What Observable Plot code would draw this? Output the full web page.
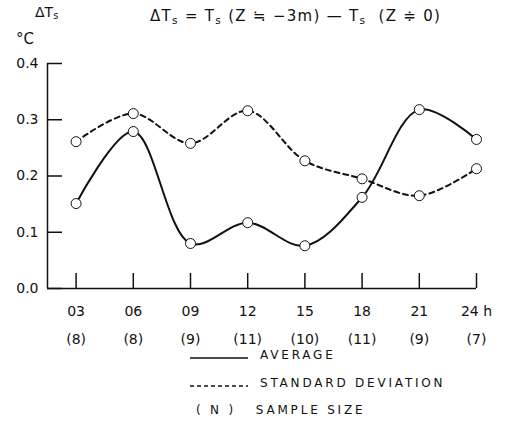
<!DOCTYPE html>
<html>
<head>
<meta charset="utf-8">
<script src="https://cdn.jsdelivr.net/npm/d3@7"></script>
<script src="https://cdn.jsdelivr.net/npm/@observablehq/plot@0.6"></script>
<style>
  body { margin: 0; background: #fff; }
  #wrap { position: relative; width: 520px; height: 421px; font-family: "DejaVu Sans", sans-serif; color: #111; }
  #wrap svg { position: absolute; left: 0; top: 0; }
  .t { position: absolute; white-space: nowrap; line-height: 1; }
  .sub { font-size: 0.7em; position: relative; top: 0.25em; }
  .leg { position: absolute; font-size: 12px; letter-spacing: 2.8px; white-space: nowrap; line-height: 1; }
</style>
</head>
<body>
<div id="wrap">
  <div class="t" style="left:35px;top:5px;font-size:14px;">ΔT<span class="sub">s</span></div>
  <div class="t" style="left:16px;top:32px;font-size:15px;">°C</div>
  <div class="t" style="left:150px;top:9px;font-size:15px;letter-spacing:1.3px;">ΔT<span class="sub">s</span> = T<span class="sub">s</span> (Z ≒ −3m) — T<span class="sub">s</span>&nbsp; (Z ≑ 0)</div>
  <svg class="legsvg" width="520" height="421" style="position:absolute;left:0;top:0;pointer-events:none">
    <line x1="190" x2="248" y1="358" y2="358" stroke="#111" stroke-width="1.5"/>
    <line x1="190" x2="248" y1="386" y2="386" stroke="#111" stroke-width="1.5" stroke-dasharray="4,3"/>
  </svg>
  <div class="leg" style="left:260px;top:349px;">AVERAGE</div>
  <div class="leg" style="left:260px;top:377px;">STANDARD DEVIATION</div>
  <div class="leg" style="left:196px;top:404px;">(&nbsp;N&nbsp;)&nbsp;&nbsp; SAMPLE SIZE</div>
</div>
<script>
const hours = [3, 6, 9, 12, 15, 18, 21, 24];
const hourLabels = ["03", "06", "09", "12", "15", "18", "21", "24 h"];
const sampleSizes = ["(8)", "(8)", "(9)", "(11)", "(10)", "(11)", "(9)", "(7)"];
const average = [0.151, 0.279, 0.080, 0.117, 0.076, 0.162, 0.318, 0.265];
const stdDev = [0.261, 0.311, 0.258, 0.316, 0.227, 0.195, 0.165, 0.213];
const yTicks = [0, 0.1, 0.2, 0.3, 0.4];
const yTickLabels = ["0.0", "0.1", "0.2", "0.3", "0.4"];

const avgData = hours.map((h, i) => ({h, v: average[i]}));
const sdData = hours.map((h, i) => ({h, v: stdDev[i]}));
const xDomain = [1.5, 24];

const W = 520, H = 421, mT = 63, mB = 133, mL = 47, mR = 44, tick = 15;
const frameW = W - mL - mR, frameH = H - mT - mB;

const chart = Plot.plot({
  width: W,
  height: H,
  marginTop: mT,
  marginBottom: mB,
  marginLeft: mL,
  marginRight: mR,
  style: {fontFamily: "DejaVu Sans, sans-serif", fontSize: "14px", color: "#111", background: "transparent"},
  x: {domain: xDomain, label: null},
  y: {domain: [0, 0.4], label: null},
  marks: [
    Plot.ruleY([0], {stroke: "#111", strokeWidth: 1.5}),
    Plot.ruleX([xDomain[0]], {stroke: "#111", strokeWidth: 1.5}),
    Plot.tickX(hours, {x: d => d, insetTop: frameH - tick, stroke: "#111", strokeWidth: 1.5}),
    Plot.tickY(yTicks, {y: d => d, insetRight: frameW - tick, stroke: "#111", strokeWidth: 1.5}),
    Plot.axisX(hours, {tickSize: 0, tickPadding: 18, label: null,
      tickFormat: d => hourLabels[hours.indexOf(d)], fontSize: 14, fill: "#111"}),
    Plot.axisX(hours, {tickSize: 0, tickPadding: 46, label: null,
      tickFormat: d => sampleSizes[hours.indexOf(d)], fontSize: 14, fill: "#111"}),
    Plot.axisY(yTicks, {tickSize: 0, tickPadding: 9, label: null,
      tickFormat: d => yTickLabels[yTicks.indexOf(d)], fontSize: 14, fill: "#111"}),
    Plot.line(sdData, {x: "h", y: "v", curve: "catmull-rom", stroke: "#111", strokeWidth: 2, strokeDasharray: "5,4"}),
    Plot.line(avgData, {x: "h", y: "v", curve: "catmull-rom", stroke: "#111", strokeWidth: 2}),
    Plot.dot(sdData, {x: "h", y: "v", r: 5, fill: "white", stroke: "#111", strokeWidth: 1}),
    Plot.dot(avgData, {x: "h", y: "v", r: 5, fill: "white", stroke: "#111", strokeWidth: 1})
  ]
});
document.getElementById("wrap").prepend(chart);
</script>
</body>
</html>
